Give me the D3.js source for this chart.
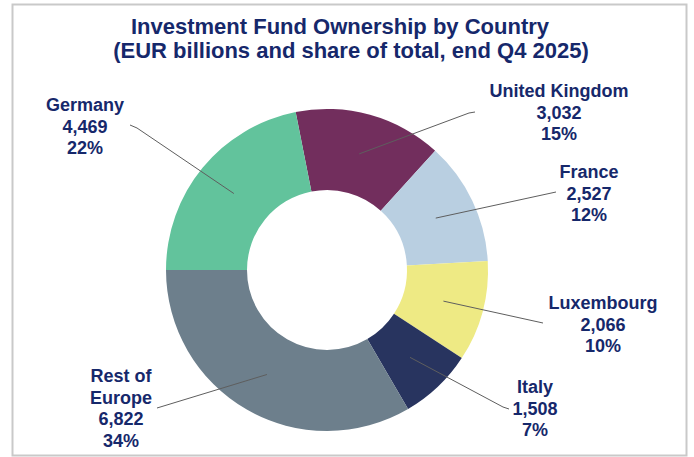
<!DOCTYPE html>
<html>
<head>
<meta charset="utf-8">
<script src="https://cdn.jsdelivr.net/npm/d3@7"></script>
<style>
  html, body { margin: 0; padding: 0; background: #ffffff; }
  svg { display: block; font-family: "Liberation Sans", Arial, sans-serif; }
</style>
</head>
<body>
<svg id="chart" width="694" height="457"></svg>
<script>
// Investment fund holdings by country, EUR billions, end Q4 2025
const countries = ["United Kingdom", "France", "Luxembourg", "Italy", "Rest of Europe", "Germany"];
const holdings  = [3032, 2527, 2066, 1508, 6822, 4469];
const shareLabels = ["15%", "12%", "10%", "7%", "34%", "22%"];
const labelLines = [
  ["United Kingdom"], ["France"], ["Luxembourg"], ["Italy"], ["Rest of", "Europe"], ["Germany"]
];
const sliceColors = ["#722e5d", "#b9cfe1", "#eeea84", "#28345f", "#6d7f8c", "#62c39c"];

// Label placement: text centre x, first baseline y, and the outer end of the leader line
const labelLayout = [
  { x: 559, y: 97,  hook: [[475, 112], [469, 113]] },
  { x: 589, y: 178, hook: [[556, 192]] },
  { x: 603, y: 309, hook: [[543, 323]] },
  { x: 535, y: 393, hook: [[509, 409], [503, 407]] },
  { x: 121, y: 382, hook: [[157, 408]] },
  { x: 85,  y: 111, hook: [[130, 125], [137, 128]] }
];

const W = 694, H = 457;
const cx = 327, cy = 270, rOuter = 161, rInner = 80;
const textColor = "#16286b";
const lineStep = 21.5;

const svg = d3.select("#chart");

// frame
svg.append("rect")
  .attr("x", 12.5).attr("y", 4.5)
  .attr("width", 674).attr("height", 451)
  .attr("fill", "#ffffff")
  .attr("stroke", "#c9c9c9")
  .attr("stroke-width", 2);

// title
const title = svg.append("g").attr("fill", textColor)
  .attr("font-weight", "bold").attr("font-size", 22).attr("text-anchor", "middle");
title.append("text").attr("x", 340).attr("y", 33.5).text("Investment Fund Ownership by Country");
title.append("text").attr("x", 351).attr("y", 58).text("(EUR billions and share of total, end Q4 2025)");

// the last category (Germany) begins at 9 o'clock
const total = d3.sum(holdings);
const startAngle = -Math.PI / 2 + 2 * Math.PI * holdings[holdings.length - 1] / total;

const pie = d3.pie().sort(null).value(d => d)
  .startAngle(startAngle).endAngle(startAngle + 2 * Math.PI);
const arcs = pie(holdings);

const arc = d3.arc().innerRadius(rInner).outerRadius(rOuter);

const g = svg.append("g").attr("transform", `translate(${cx},${cy})`);

g.selectAll("path.slice")
  .data(arcs)
  .join("path")
  .attr("class", "slice")
  .attr("d", arc)
  .attr("fill", (d, i) => sliceColors[i]);

// leader lines from slice centroid to label
const line = d3.line();
svg.selectAll("path.leader")
  .data(arcs)
  .join("path")
  .attr("class", "leader")
  .attr("fill", "none")
  .attr("stroke", "#5e5e5e")
  .attr("stroke-width", 1)
  .attr("d", (d, i) => {
    const c = arc.centroid(d);
    const pts = labelLayout[i].hook.slice();
    pts.push([cx + c[0], cy + c[1]]);
    return line(pts);
  });

// labels
const fmt = d3.format(",");
const labels = svg.selectAll("text.lbl")
  .data(arcs)
  .join("text")
  .attr("class", "lbl")
  .attr("text-anchor", "middle")
  .attr("font-weight", "bold")
  .attr("font-size", 18)
  .attr("fill", textColor);

labels.each(function (d, i) {
  const t = d3.select(this);
  const rows = labelLines[i].concat([fmt(holdings[i]), shareLabels[i]]);
  rows.forEach((r, k) => {
    t.append("tspan")
      .attr("x", labelLayout[i].x)
      .attr("y", labelLayout[i].y + k * lineStep)
      .text(r);
  });
});
</script>
</body>
</html>
